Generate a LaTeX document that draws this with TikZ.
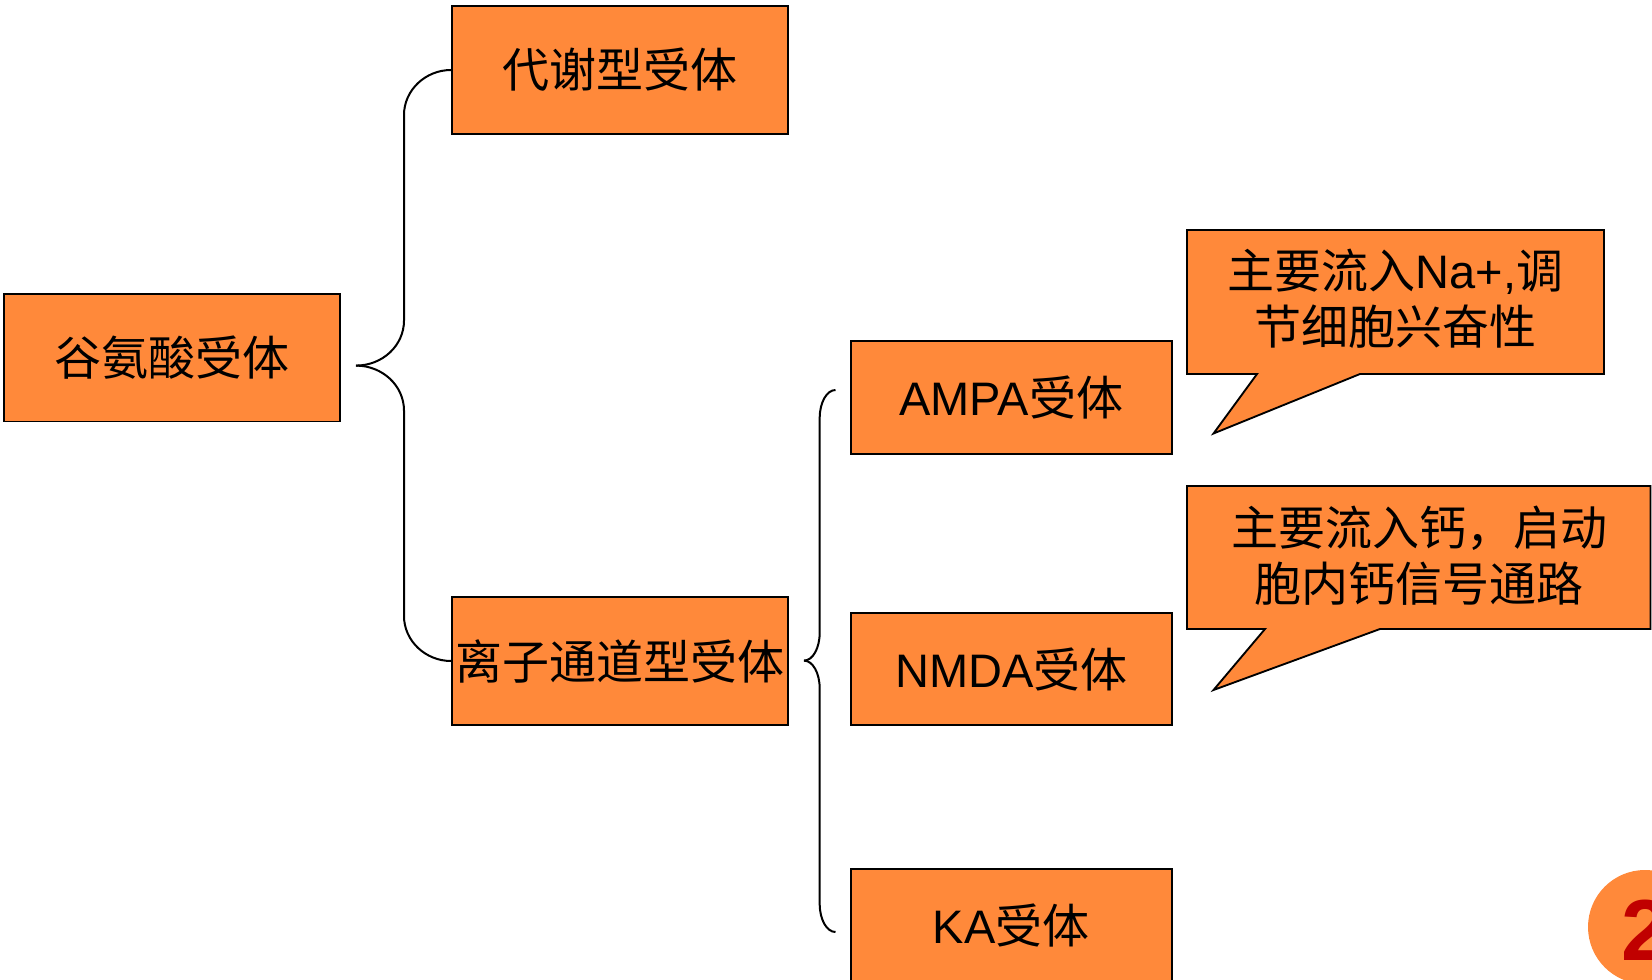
\documentclass[tikz,border=0pt]{standalone}
\usepackage{fontspec}
\setmainfont{Liberation Sans}
\newfontfamily\cjk{Noto Sans CJK SC}
\definecolor{boxorange}{RGB}{255,137,58}
\definecolor{darkred}{RGB}{192,0,0}
\begin{document}
\begin{tikzpicture}[x=0.75pt,y=-0.75pt,
  box/.style={draw=black,line width=1.4pt,fill=boxorange,inner sep=0pt,
    font=\fontsize{35.25}{42}\selectfont},
  brace/.style={draw=black,line width=1.5pt},
  callout/.style={draw=black,line width=1.4pt,fill=boxorange,line join=miter},
  callouttext/.style={align=center,inner sep=0pt,font=\fontsize{35.25}{42}\selectfont}]
\useasboundingbox (0,0) rectangle (1652,980);
\clip (0,0) rectangle (1652,980);
% main boxes
\node[box,minimum width=336*0.75pt,minimum height=127.5*0.75pt] (glu) at (172.3,357.7) {\cjk 谷氨酸受体};
\node[box,minimum width=336*0.75pt,minimum height=127.5*0.75pt] (meta) at (620,70) {\cjk 代谢型受体};
\node[box,minimum width=336*0.75pt,minimum height=128*0.75pt] (ion) at (620,661) {\cjk 离子通道型受体};
\node[box,minimum width=320.6*0.75pt,minimum height=113*0.75pt] (ampa) at (1011.3,397.5) {AMPA{\cjk 受体}};
\node[box,minimum width=320.6*0.75pt,minimum height=112*0.75pt] (nmda) at (1011.3,669) {NMDA{\cjk 受体}};
\node[box,minimum width=320.6*0.75pt,minimum height=113*0.75pt] (ka) at (1011.3,925.5) {KA{\cjk 受体}};
% big brace
\coordinate (b1tip) at (356,365.6);
\draw[brace] (meta.west) .. controls (425.5,70) and (404,90.1) .. (404,115)
  -- (404,320.6) .. controls (404,345.5) and (382.5,365.6) .. (b1tip);
\draw[brace] (b1tip) .. controls (382.5,365.6) and (404,385.7) .. (404,410.6)
  -- (404,616) .. controls (404,640.9) and (425.5,661) .. (ion.west);
% small brace
\coordinate (b2top) at (835.5,390);
\coordinate (b2tip) at (804,660.6);
\coordinate (b2bot) at (835.5,932);
\draw[brace] (b2top) .. controls (826.7,390) and (819.7,402.5) .. (819.7,418)
  -- (819.7,632.6) .. controls (819.7,648.1) and (812.8,660.6) .. (b2tip);
\draw[brace] (b2tip) .. controls (812.8,660.6) and (819.7,673.1) .. (819.7,688.6)
  -- (819.7,904) .. controls (819.7,919.5) and (826.7,932) .. (b2bot);
% callouts
\draw[callout] (1187,230) -- (1604,230) -- (1604,374) -- (1360,374) -- (1213.5,433.5) -- (1257,374) -- (1187,374) -- cycle;
\node[callouttext] (c1) at (1395.5,299) {{\cjk 主要流入}Na+,{\cjk 调}\\{\cjk 节细胞兴奋性}};
\draw[callout] (1187,486) -- (1650.5,486) -- (1650.5,629) -- (1380,629) -- (1213.5,690) -- (1265,629) -- (1187,629) -- cycle;
\node[callouttext] (c2) at (1419,555.5) {{\cjk 主要流入钙，启动}\\{\cjk 胞内钙信号通路}};
% page number badge
\fill[boxorange] (1645,927) circle[radius=57];
\node[anchor=base west,inner sep=0pt,text=darkred,font=\fontsize{65}{70}\bfseries\selectfont] (pg) at (1621,960) {2};
\end{tikzpicture}
\end{document}
